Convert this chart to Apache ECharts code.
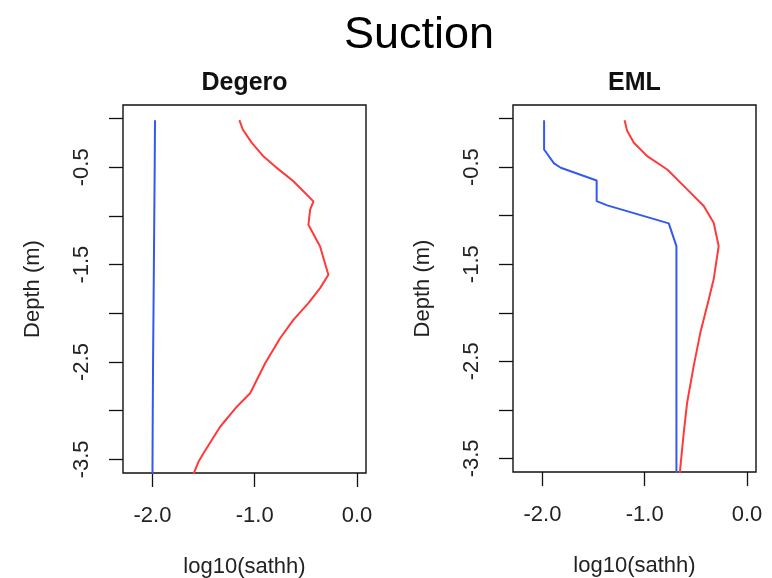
<!DOCTYPE html>
<html>
<head>
<meta charset="utf-8">
<script src="https://cdn.jsdelivr.net/npm/echarts@6/dist/echarts.min.js"></script>
<style>
html,body{margin:0;padding:0;background:#fff;}
#chart{width:772px;height:578px;}
</style>
</head>
<body>
<div id="chart"></div>
<script>
// ---- data (x = log10(sathh), y = depth in m) ----
const mainTitle = "Suction";
const panelTitles = ["Degero", "EML"];
const xTicks = [-2, -1, 0];
const yTicks = [0, -0.5, -1, -1.5, -2, -2.5, -3, -3.5];
const yLabels = [-0.5, -1.5, -2.5, -3.5];

const degeroBlueX = [-1.975, -1.978, -1.982, -1.986, -1.990, -1.994, -1.997, -2.0];
const degeroBlueY = [-0.016, -0.5, -1.0, -1.5, -2.0, -2.5, -3.0, -3.70];

const degeroRedX = [-1.150, -1.117, -1.028, -0.915, -0.784, -0.622, -0.507, -0.426, -0.458, -0.475, -0.361, -0.280, -0.361, -0.475, -0.622, -0.752, -0.898, -1.045, -1.175, -1.338, -1.501, -1.550, -1.610];
const degeroRedY = [-0.016, -0.112, -0.249, -0.387, -0.506, -0.644, -0.764, -0.850, -0.935, -1.090, -1.313, -1.604, -1.741, -1.895, -2.067, -2.256, -2.513, -2.821, -2.959, -3.165, -3.438, -3.525, -3.680];

const emlBlueX = [-1.984, -1.984, -1.887, -1.821, -1.470, -1.470, -1.366, -0.765, -0.690, -0.690];
const emlBlueY = [-0.016, -0.318, -0.462, -0.506, -0.637, -0.850, -0.894, -1.079, -1.313, -3.700];

const emlRedX = [-1.197, -1.171, -1.106, -0.976, -0.780, -0.585, -0.423, -0.326, -0.277, -0.326, -0.390, -0.456, -0.521, -0.585, -0.618, -0.660];
const emlRedY = [-0.016, -0.129, -0.249, -0.387, -0.524, -0.729, -0.901, -1.072, -1.313, -1.655, -1.930, -2.204, -2.547, -2.924, -3.233, -3.680];

const xName = "log10(sathh)";
const yName = "Depth (m)";

// ---- build ----
const pairs = (xs, ys) => xs.map((x, i) => [x, ys[i]]);
const FONT = "'Liberation Sans', Arial, sans-serif";
const BLUE = "#3558f0";
const RED = "#ff3a3a";

const grids = [
  {left: 123, top: 105, width: 243, height: 368},
  {left: 513, top: 105, width: 243, height: 367}
];

function xAxis(i) {
  return {
    gridIndex: i, type: 'value', min: -2.288, max: 0.088, position: 'bottom',
    axisLine: {show: false, onZero: false},
    splitLine: {show: false},
    axisTick: {show: true, length: 14, customValues: xTicks, lineStyle: {color: '#111', width: 1.3}},
    axisLabel: {customValues: xTicks, margin: 32, fontSize: 22, color: '#222', fontFamily: FONT,
      formatter: v => v.toFixed(1)},
    name: xName, nameLocation: 'middle', nameGap: 83,
    nameTextStyle: {fontSize: 22, color: '#222', fontFamily: FONT}
  };
}
function yAxis(i) {
  return {
    gridIndex: i, type: 'value', min: -3.64, max: 0.14, position: 'left',
    axisLine: {show: false, onZero: false},
    splitLine: {show: false},
    axisTick: {show: true, length: 14, customValues: yTicks, lineStyle: {color: '#111', width: 1.3}},
    axisLabel: {customValues: yLabels, rotate: 90, margin: 30, fontSize: 22, color: '#222', fontFamily: FONT,
      formatter: v => v.toFixed(1)},
    name: yName, nameLocation: 'middle', nameGap: 79, nameRotate: 90,
    nameTextStyle: {fontSize: 22, color: '#222', fontFamily: FONT}
  };
}
function line(i, xs, ys, color) {
  return {
    type: 'line', xAxisIndex: i, yAxisIndex: i, data: pairs(xs, ys),
    showSymbol: false, symbol: 'none', clip: true, animation: false,
    lineStyle: {color: color, width: 2}
  };
}

const option = {
  backgroundColor: '#fff',
  animation: false,
  title: [
    {text: mainTitle, left: 414, top: 8, textAlign: 'center',
      textStyle: {fontSize: 45, fontWeight: 'normal', color: '#000', fontFamily: FONT}},
    {text: panelTitles[0], left: 239.5, top: 66, textAlign: 'center',
      textStyle: {fontSize: 25, fontWeight: 'bold', color: '#111', fontFamily: FONT}},
    {text: panelTitles[1], left: 629.5, top: 66, textAlign: 'center',
      textStyle: {fontSize: 25, fontWeight: 'bold', color: '#111', fontFamily: FONT}}
  ],
  grid: grids.map(g => Object.assign({show: true, borderColor: '#111', borderWidth: 1.4,
    backgroundColor: 'transparent', containLabel: false, outerBoundsMode: 'none'}, g)),
  xAxis: [xAxis(0), xAxis(1)],
  yAxis: [yAxis(0), yAxis(1)],
  series: [
    line(0, degeroBlueX, degeroBlueY, BLUE),
    line(0, degeroRedX, degeroRedY, RED),
    line(1, emlBlueX, emlBlueY, BLUE),
    line(1, emlRedX, emlRedY, RED)
  ]
};

const chart = echarts.init(document.getElementById('chart'), null, {renderer: 'canvas'});
chart.setOption(option);
</script>
</body>
</html>
